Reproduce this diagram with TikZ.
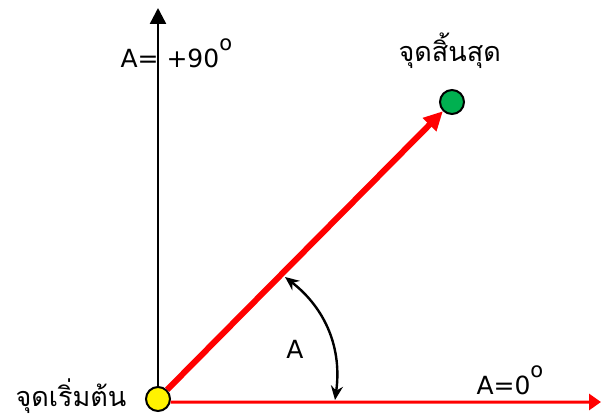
\documentclass[tikz,border=0pt]{standalone}
\usepackage{fontspec}
\setmainfont{DejaVu Sans}
\newfontfamily\thaifont[Script=Thai]{Loma}
\usepackage{xcolor}
\usetikzlibrary{positioning}
\usetikzlibrary{arrows.meta}
\definecolor{goalgreen}{RGB}{0,176,80}
\newcommand{\degsign}{\raisebox{17pt}{\fontsize{21}{21}\selectfont o}}

\begin{document}
\begin{tikzpicture}[x=1pt, y=1pt, every node/.style={font=\fontsize{25}{30}\selectfont},
    dot/.style={circle, draw=black, line width=2pt, minimum size=24pt, inner sep=0pt},
    thai/.style={font=\fontsize{27}{30}\selectfont\thaifont}]
\useasboundingbox (0,0) rectangle (601,419);

\node[dot, fill=yellow] (start) at (158,20) {}; % origin
\node[dot, fill=goalgreen] (goal) at (452,317) {}; % end point
\coordinate (ytip) at (158,411);
\coordinate (xtip) at (601,17);
\coordinate (a1) at (285,142);
\coordinate (a2) at (335,19);

\draw[line width=2.4pt, -{Triangle[length=16pt,width=16pt]}] (start.north) -- (ytip); % 90 deg axis
\draw[red, line width=3pt, -{Triangle[length=12pt,width=16pt]}] (start.-14) -- (xtip); % 0 deg axis
\draw[red, line width=6pt, -{Triangle[length=19pt,width=18pt]}] (start) -- (goal);
\draw[line width=2.4pt, {Stealth[length=14pt,width=12pt]}-{Stealth[length=14pt,width=12pt]}] (a1) to[bend left=30] (a2);

\node[anchor=base west] (up) at (117,351) {A= +90\degsign};
\node[anchor=base west] (right) at (473,24) {A=0\degsign};
\node (angle) at (295,70) {A};
\node[thai, anchor=base west] (startlabel) at (12,12) {จุดเริ่มต้น};
\node[thai, anchor=base west] (goallabel) at (395,357) {จุดสิ้นสุด};
\end{tikzpicture}
\end{document}
